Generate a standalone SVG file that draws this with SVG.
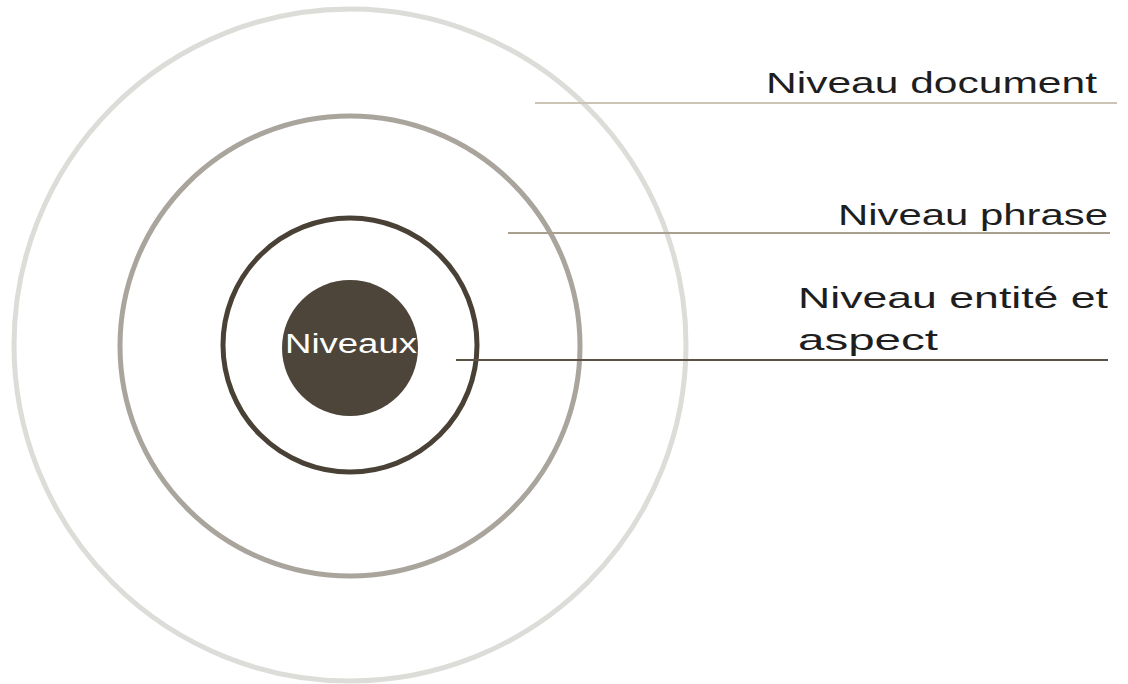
<svg xmlns="http://www.w3.org/2000/svg" width="1128" height="684" viewBox="0 0 1128 684">
<style>
.ring{fill:none;stroke-width:5}
.lbl{font-family:"Liberation Sans",Arial,sans-serif;font-size:30px;fill:#1e1e1e}
.ctr{font-family:"Liberation Sans",Arial,sans-serif;font-size:27px;fill:#ffffff}
</style>
<rect width="1128" height="684" fill="#ffffff"/>
<g id="ring-document"><circle class="ring" cx="350" cy="345" r="336" stroke="#dcdcd8"/></g>
<g id="ring-phrase"><circle class="ring" cx="350" cy="346" r="230" stroke="#a9a59d"/></g>
<g id="ring-entite"><circle class="ring" cx="350" cy="345" r="127" stroke="#4a4136"/></g>
<g id="center"><circle cx="350" cy="348" r="68" fill="#4d4539"/><text class="ctr" x="351" y="353" text-anchor="middle" textLength="132" lengthAdjust="spacingAndGlyphs">Niveaux</text></g>
<g id="connectors">
<line x1="535" y1="103" x2="1117" y2="103" stroke="#cbc3b4" stroke-width="2"/>
<line x1="508" y1="233" x2="1110" y2="233" stroke="#a89f8f" stroke-width="2"/>
<line x1="456" y1="360" x2="1108" y2="360" stroke="#5a5244" stroke-width="2"/>
</g>
<g id="label-document"><text class="lbl" x="766" y="93" textLength="331" lengthAdjust="spacingAndGlyphs">Niveau document</text></g>
<g id="label-phrase"><text class="lbl" x="838" y="225" textLength="270" lengthAdjust="spacingAndGlyphs">Niveau phrase</text></g>
<g id="label-entite"><text class="lbl" x="798" y="308" textLength="310" lengthAdjust="spacingAndGlyphs">Niveau entité et</text><text class="lbl" x="798" y="350" textLength="140" lengthAdjust="spacingAndGlyphs">aspect</text></g>
</svg>
